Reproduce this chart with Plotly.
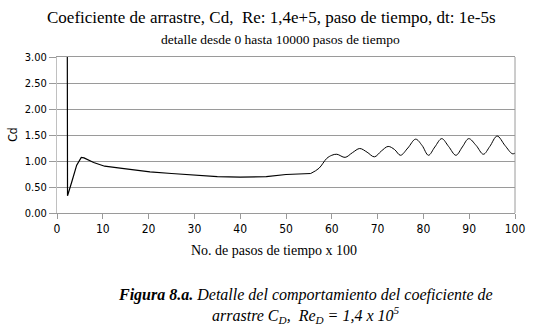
import plotly.graph_objects as go

# Early part of the drag coefficient history (spike + decay), straight segments
x_early = [2.2, 2.3, 3.3, 4.3, 5.3, 5.9, 8.0, 10.4, 14.2, 20.3, 25.0, 30.7, 35.0, 40.0, 45.7, 50.0, 55.4]
cd_early = [6.0, 0.33, 0.62, 0.92, 1.07, 1.06, 0.97, 0.90, 0.86, 0.79, 0.76, 0.72, 0.70, 0.69, 0.70, 0.74, 0.76]

# Later oscillating part (vortex shedding), smooth curve
x_late = [55.4, 57.2, 58.9, 60.0, 61.1, 62.9, 64.5, 66.1, 67.7, 69.3, 70.8, 72.3, 73.7, 75.0,
          76.6, 78.3, 79.7, 81.1, 82.5, 84.0, 85.5, 87.1, 88.5, 89.9, 91.5, 93.1, 94.5, 96.1,
          97.8, 99.4, 100.0]
cd_late = [0.76, 0.86, 1.05, 1.11, 1.13, 1.07, 1.16, 1.24, 1.17, 1.08, 1.19, 1.28, 1.22, 1.11,
           1.25, 1.42, 1.30, 1.11, 1.27, 1.43, 1.28, 1.11, 1.27, 1.43, 1.30, 1.13, 1.28, 1.48,
           1.30, 1.14, 1.15]

x_ticks = [0, 10, 20, 30, 40, 50, 60, 70, 80, 90, 100]
y_ticks = [0.0, 0.5, 1.0, 1.5, 2.0, 2.5, 3.0]

SERIF = "'Liberation Serif', 'Times New Roman', serif"
NARROW = "'DejaVu Sans Condensed', 'Liberation Sans Narrow', 'DejaVu Sans', sans-serif"

fig = go.Figure()
fig.add_trace(go.Scatter(x=x_early, y=cd_early, mode="lines",
                         line=dict(color="black", width=1.2),
                         hoverinfo="skip", showlegend=False))
fig.add_trace(go.Scatter(x=x_late, y=cd_late, mode="lines",
                         line=dict(color="black", width=1.0, shape="spline", smoothing=1.0),
                         hoverinfo="skip", showlegend=False))

CAP_X = (310 - 57) / 466.0

fig.update_layout(
    width=537, height=333,
    margin=dict(l=57, r=14, t=57, b=120),
    paper_bgcolor="white", plot_bgcolor="white",
    showlegend=False,
    xaxis=dict(range=[0, 100], tickvals=x_ticks, ticktext=[str(v) for v in x_ticks],
               showgrid=False, zeroline=False,
               showline=True, linecolor="#9a9a9a", linewidth=1, mirror=True,
               ticks="outside", ticklen=5, tickcolor="#9a9a9a",
               tickfont=dict(family=NARROW, size=12, color="black")),
    yaxis=dict(range=[0, 3], tickvals=y_ticks, ticktext=["%.2f" % v for v in y_ticks],
               showgrid=True, gridcolor="#9a9a9a", gridwidth=1, zeroline=False,
               showline=True, linecolor="#c0c0c0", linewidth=1, mirror=False,
               ticks="outside", ticklen=7, tickcolor="#9a9a9a",
               tickfont=dict(family=NARROW, size=11, color="black")),
    shapes=[dict(type="line", xref="paper", yref="paper", x0=1, x1=1, y0=0, y1=1,
                 line=dict(color="#9a9a9a", width=1))],
    annotations=[
        dict(text="Coeficiente de arrastre, Cd,  Re: 1,4e+5, paso de tiempo, dt: 1e-5s",
             xref="paper", yref="paper", x=(275 - 57) / 466.0, y=1 + (57 - 17.5) / 156.0,
             xanchor="center", yanchor="middle", showarrow=False,
             font=dict(family=SERIF, size=17, color="black")),
        dict(text="detalle desde 0 hasta 10000 pasos de tiempo",
             xref="paper", yref="paper", x=(284 - 57) / 466.0, y=1 + (57 - 40) / 156.0,
             xanchor="center", yanchor="middle", showarrow=False,
             font=dict(family=SERIF, size=13.5, color="black")),
        dict(text="Cd", xref="paper", yref="paper", x=-(57 - 12) / 466.0, y=0.5,
             xanchor="center", yanchor="middle", textangle=-90, showarrow=False,
             font=dict(family=NARROW, size=12, color="black")),
        dict(text="No. de pasos de tiempo x 100",
             xref="paper", yref="paper", x=(278 - 57) / 466.0, y=-(250 - 213) / 156.0,
             xanchor="center", yanchor="middle", showarrow=False,
             font=dict(family=SERIF, size=14, color="black")),
        dict(text="<b><i>Figura 8.a.</i></b><i> Detalle del comportamiento del coeficiente de</i>",
             xref="paper", yref="paper", x=CAP_X, y=-(295 - 213) / 156.0,
             xanchor="center", yanchor="middle", showarrow=False,
             font=dict(family=SERIF, size=16, color="black")),
        dict(text="<i>arrastre C<sub>D</sub>,  Re<sub>D</sub> = 1,4 x 10<sup>5</sup></i>",
             xref="paper", yref="paper", x=CAP_X, y=-(315 - 213) / 156.0,
             xanchor="center", yanchor="middle", showarrow=False,
             font=dict(family=SERIF, size=16, color="black")),
    ],
)

fig.write_html("out.html", config={"displayModeBar": False},
               post_script="document.body.style.margin='0';")
